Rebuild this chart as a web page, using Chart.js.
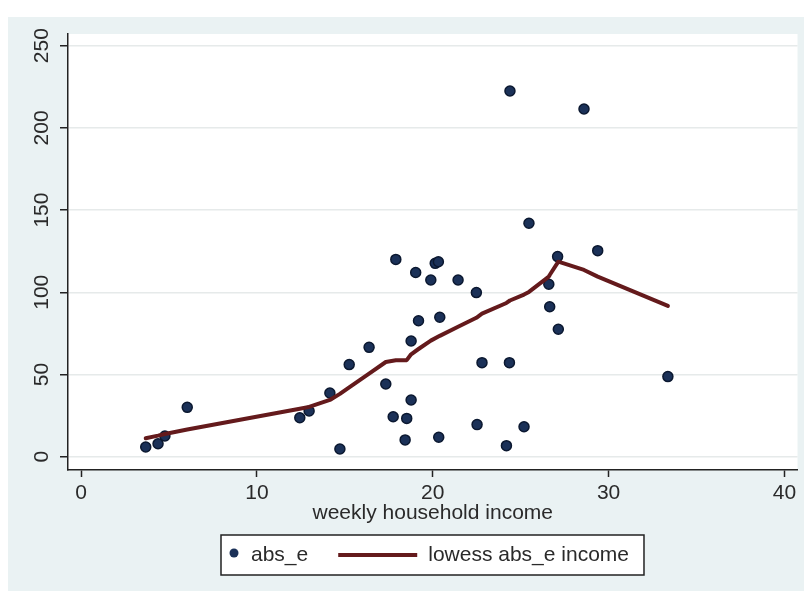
<!DOCTYPE html>
<html>
<head>
<meta charset="utf-8">
<script src="https://cdn.jsdelivr.net/npm/chart.js@4.4.1/dist/chart.umd.min.js"></script>
<style>
  html, body { margin: 0; padding: 0; background: #fff; }
  #wrap { position: absolute; left: 8px; top: 17px; width: 796px; height: 574px; background: #eaf2f3; }
  canvas { display: block; }
</style>
</head>
<body>
<div id="wrap"><canvas id="lowessChart" width="796" height="574"></canvas></div>
<script>
// abs_e contra renda semanal (pontos) + curva lowess
const incomeX = [3.68, 4.38, 4.77, 6.04, 12.44, 12.97, 14.15, 14.72, 15.25, 16.38, 17.33, 17.75, 17.9, 18.43, 18.52, 18.77, 18.77, 19.03, 19.19, 19.89, 20.14, 20.32, 20.34, 20.4, 21.44, 22.48, 22.52, 22.8, 24.19, 24.36, 24.39, 25.19, 25.47, 26.6, 26.65, 27.1, 27.14, 28.6, 29.38, 33.37];
const absE = [5.9, 7.9, 12.6, 30, 23.7, 27.8, 38.7, 4.7, 56, 66.5, 44.2, 24.3, 120, 10.2, 23.3, 34.5, 70.4, 112, 82.7, 107.5, 117.6, 118.6, 11.8, 84.8, 107.5, 99.8, 19.5, 57.2, 6.7, 57.2, 222.4, 18.2, 142, 104.9, 91.2, 121.7, 77.5, 211.5, 125.3, 48.7];

const lowessX = [3.68, 4.38, 4.77, 6.04, 12.44, 12.97, 14.15, 14.72, 15.25, 16.38, 17.33, 17.9, 18.52, 18.77, 19.19, 19.89, 20.4, 21.44, 22.48, 22.8, 24.19, 24.39, 25.19, 25.47, 26.6, 26.65, 27.14, 28.6, 29.38, 33.37];
const lowessY = [11.2, 12.8, 13.8, 16.5, 29.2, 30.3, 34.5, 38.2, 42.2, 50.5, 57.6, 58.6, 58.7, 62.3, 65.5, 70.6, 73.5, 79, 84.5, 87, 93.5, 95, 98.6, 100.2, 109.5, 110.5, 118.6, 113.6, 109.5, 91.7];

const xTicks = [0, 10, 20, 30, 40];
const yTicks = [0, 50, 100, 150, 200, 250];

const fonte = "'Liberation Sans', Arial, sans-serif";
Chart.defaults.font.family = fonte;
Chart.defaults.font.size = 21;
Chart.defaults.color = '#2a2a2a';

// fundo branco so na area do grafico
const plotBg = {
  id: 'plotBg',
  beforeDraw(chart) {
    const a = chart.chartArea;
    const ctx = chart.ctx;
    ctx.save();
    ctx.fillStyle = '#ffffff';
    ctx.fillRect(a.left, a.top, a.right - a.left, a.bottom - a.top);
    ctx.restore();
  }
};

// legenda com moldura, no estilo do Stata
const legendaBox = {
  id: 'legendaBox',
  afterDraw(chart) {
    const ctx = chart.ctx;
    const ds = chart.data.datasets;
    const a = chart.chartArea;
    ctx.save();
    ctx.font = '21px ' + fonte;
    const w1 = ctx.measureText(ds[0].label).width;
    const w2 = ctx.measureText(ds[1].label).width;
    const lineLen = 79;
    const boxW = 13 + 17 + w1 + 30 + lineLen + 11 + w2 + 15;
    const boxH = 40;
    const left = Math.round((a.left + a.right) / 2 - boxW / 2);
    const top = a.bottom + 65;
    const cy = top + boxH / 2;
    ctx.fillStyle = '#ffffff';
    ctx.fillRect(left, top, boxW, boxH);
    ctx.strokeStyle = '#222';
    ctx.lineWidth = 1.5;
    ctx.strokeRect(left, top, boxW, boxH);

    ctx.beginPath();
    ctx.arc(left + 13, cy - 2, 4.5, 0, Math.PI * 2);
    ctx.fillStyle = ds[0].backgroundColor;
    ctx.fill();

    ctx.fillStyle = '#2a2a2a';
    ctx.textBaseline = 'middle';
    ctx.fillText(ds[0].label, left + 30, cy);

    const lx = left + 30 + w1 + 30;
    ctx.beginPath();
    ctx.moveTo(lx, cy);
    ctx.lineTo(lx + lineLen, cy);
    ctx.strokeStyle = ds[1].borderColor;
    ctx.lineWidth = 4;
    ctx.stroke();

    ctx.fillText(ds[1].label, lx + lineLen + 11, cy);
    ctx.restore();
  }
};

const canvas = document.getElementById('lowessChart');
new Chart(canvas, {
  type: 'scatter',
  data: {
    datasets: [{
      label: 'abs_e',
      data: incomeX.map((x, i) => ({ x: x, y: absE[i] })),
      backgroundColor: '#1b3158',
      borderColor: '#0b1830',
      borderWidth: 1.5,
      pointRadius: 5,
      order: 1
    }, {
      label: 'lowess abs_e income',
      data: lowessX.map((x, i) => ({ x: x, y: lowessY[i] })),
      showLine: true,
      borderColor: '#641a1c',
      borderWidth: 4,
      borderJoinStyle: 'round',
      borderCapStyle: 'round',
      pointRadius: 0,
      order: 0
    }]
  },
  options: {
    responsive: false,
    animation: false,
    layout: { padding: { top: 17, right: 6, left: 0, bottom: 61 } },
    plugins: {
      legend: { display: false },
      tooltip: { enabled: false }
    },
    scales: {
      x: {
        type: 'linear',
        min: -0.74,
        max: 40.74,
        afterBuildTicks: (scale) => { scale.ticks = xTicks.map(v => ({ value: v })); },
        afterFit: (scale) => { scale.height = 60; },
        ticks: { padding: 4, color: '#2a2a2a' },
        grid: { drawOnChartArea: false, tickLength: 7, tickColor: '#222', tickWidth: 1.5 },
        border: { color: '#222', width: 1.5 },
        title: {
          display: true,
          text: 'weekly household income',
          color: '#2a2a2a',
          padding: { top: 0, bottom: 4 }
        }
      },
      y: {
        type: 'linear',
        min: -8.1,
        max: 257.1,
        afterBuildTicks: (scale) => { scale.ticks = yTicks.map(v => ({ value: v })); },
        afterFit: (scale) => { scale.width = 60; },
        ticks: { minRotation: 90, maxRotation: 90, crossAlign: 'center', padding: 0, color: '#2a2a2a' },
        grid: { color: '#e6eaea', lineWidth: 1.5, tickLength: 8, tickColor: '#222', tickWidth: 1.5 },
        border: { color: '#222', width: 1.5 }
      }
    }
  },
  plugins: [plotBg, legendaBox]
});
</script>
</body>
</html>
